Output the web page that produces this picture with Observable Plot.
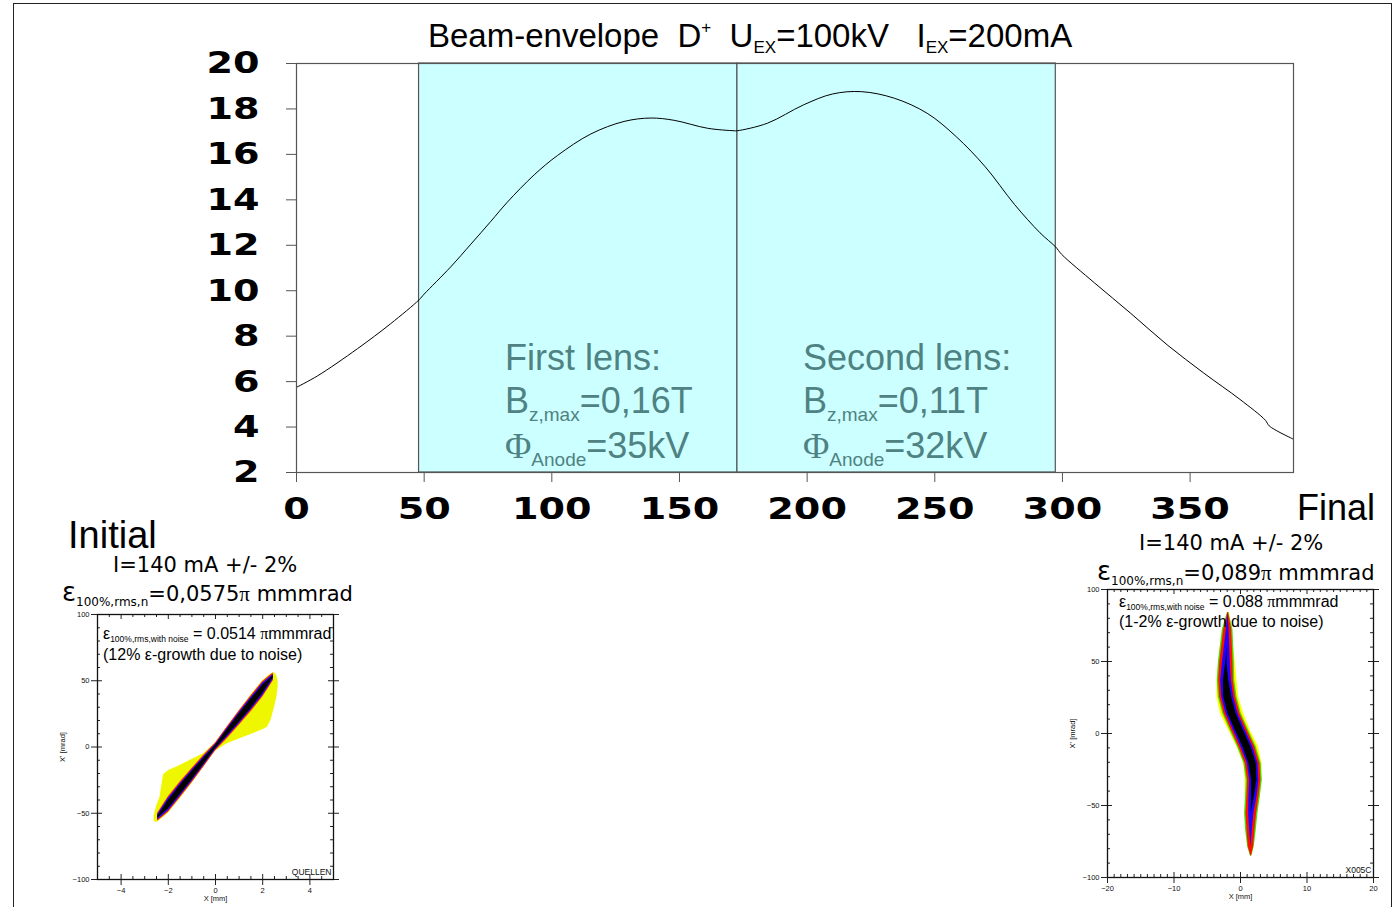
<!DOCTYPE html>
<html>
<head>
<meta charset="utf-8">
<script src="https://cdn.jsdelivr.net/npm/d3@7"></script>
<script src="https://cdn.jsdelivr.net/npm/@observablehq/plot@0.6"></script>
<style>
  html, body { margin: 0; padding: 0; background: #fff; }
  #root { position: relative; width: 1398px; height: 907px; overflow: hidden; background: #fff; }
  .border { position: absolute; left: 13px; top: 3px; width: 1379px; height: 920px; border: 1.5px solid #222; box-sizing: border-box; }
  .t { position: absolute; white-space: nowrap; line-height: 1; font-family: "Liberation Sans", Arial, sans-serif; color: #000; }
  .dv { font-family: "DejaVu Sans", Verdana, sans-serif; }
  .serif { font-family: "Liberation Serif", "Times New Roman", serif; }
  .lens { color: #4f8282; font-size: 36px; }
  .lens .sb { font-size: 19px; position: relative; top: 8px; }
</style>
</head>
<body>
<div id="root">
  <div class="border"></div>
  <div id="main" style="position:absolute;left:0;top:0"></div>
  <div id="insetL" style="position:absolute;left:40px;top:600px"></div>
  <div id="insetR" style="position:absolute;left:1050px;top:580px"></div>

  <div class="t" style="left:428px;top:19px;font-size:33px">Beam-envelope&nbsp;&nbsp;D<span style="font-size:17px;position:relative;top:-14px">+</span>&nbsp;&nbsp;U<span style="font-size:17px;position:relative;top:6px">EX</span>=100kV&nbsp;&nbsp;&nbsp;I<span style="font-size:17px;position:relative;top:6px">EX</span>=200mA</div>

  <div class="t lens" style="left:505px;top:340px">First lens:</div>
  <div class="t lens" style="left:505px;top:383px">B<span class="sb">z,max</span>=0,16T</div>
  <div class="t lens" style="left:505px;top:428px"><span class="serif">Φ</span><span class="sb">Anode</span>=35kV</div>
  <div class="t lens" style="left:803px;top:340px">Second lens:</div>
  <div class="t lens" style="left:803px;top:383px">B<span class="sb">z,max</span>=0,11T</div>
  <div class="t lens" style="left:803px;top:428px"><span class="serif">Φ</span><span class="sb">Anode</span>=32kV</div>

  <div class="t" style="left:1297px;top:490px;font-size:36px">Final</div>
  <div class="t" style="left:68px;top:516px;font-size:38px">Initial</div>

  <div class="t dv" style="left:113px;top:555px;font-size:21px">I=140 mA +/- 2%</div>
  <div class="t dv" style="left:62px;top:579px;font-size:21px"><span style="font-size:26px">ε</span><span style="font-size:12px;position:relative;top:5px">100%,rms,n</span>=0,0575<span class="serif">π</span> mmmrad</div>
  <div class="t dv" style="left:1139px;top:533px;font-size:21px">I=140 mA +/- 2%</div>
  <div class="t dv" style="left:1097px;top:558px;font-size:21px"><span style="font-size:26px">ε</span><span style="font-size:12px;position:relative;top:5px">100%,rms,n</span>=0,089<span class="serif">π</span> mmmrad</div>

  <div class="t" style="left:103px;top:626px;font-size:16px">ε<span style="font-size:8.5px;position:relative;top:3px">100%,rms,with noise</span> = 0.0514 <span class="serif">π</span>mmmrad</div>
  <div class="t" style="left:103px;top:647px;font-size:16px">(12% ε-growth due to noise)</div>
  <div class="t" style="left:1119px;top:594px;font-size:16px">ε<span style="font-size:8.5px;position:relative;top:3px">100%,rms,with noise</span> = 0.088 <span class="serif">π</span>mmmrad</div>
  <div class="t" style="left:1119px;top:614px;font-size:16px">(1-2% ε-growth due to noise)</div>
</div>

<script>
// ---------- Main beam envelope ----------
const zPos = [0, 8.2, 23.9, 36.9, 48.0, 50, 60.4, 68.3, 76.1, 82.6, 93.1, 102.2, 115.3, 128.3, 138.8, 147.9, 161, 171.4,
  172.6, 184.4, 198.6, 210, 221.4, 234.2, 247, 258.4, 269.8, 281.2, 291.2, 297.3, 299.7, 312.5, 326.8, 341, 355.3, 369.5, 379.5, 381, 390.4];
const radius = [5.75, 6.25, 7.45, 8.55, 9.6, 9.85, 11.05, 12.05, 13.05, 13.9, 15.1, 15.95, 16.9, 17.45, 17.6, 17.5, 17.15, 17.04,
  17.04, 17.37, 18.18, 18.66, 18.76, 18.47, 17.81, 16.78, 15.45, 13.8, 12.55, 11.93, 11.6, 10.35, 9.0, 7.62, 6.38, 5.22, 4.3, 4.05, 3.47];
const lensNames = ["First lens", "Second lens"];
const lensStart = [48.0, 172.7];
const lensEnd = [172.7, 297.4];
const xDomainMain = [0, 390.5];
const yDomainMain = [2, 20];
const xTicksMain = [0, 50, 100, 150, 200, 250, 300, 350];
const yTicksMain = [2, 4, 6, 8, 10, 12, 14, 16, 18, 20];

const envelope = zPos.map((z, i) => ({z, r: radius[i]}));
const lenses = lensNames.map((n, i) => ({name: n, start: lensStart[i], end: lensEnd[i]}));

const mainPlot = Plot.plot({
  width: 1398, height: 540,
  marginLeft: 296, marginRight: 105, marginTop: 63, marginBottom: 68,
  x: {domain: xDomainMain},
  y: {domain: yDomainMain},
  style: {fontFamily: "DejaVu Sans, Verdana, sans-serif", fontWeight: "bold", color: "#000", background: "transparent", overflow: "visible"},
  marks: [
    Plot.rect(lenses, {x1: "start", x2: "end", y1: () => yDomainMain[0], y2: () => yDomainMain[1], fill: "#ccffff", stroke: "#555", strokeWidth: 1.2}),
    Plot.line(envelope, {x: "z", y: "r", stroke: "#000", strokeWidth: 1, curve: "catmull-rom"}),
    Plot.frame({stroke: "#555", strokeWidth: 1.2}),
    Plot.axisY(yTicksMain, {anchor: "left", tickSize: 10, tickPadding: 27, fontSize: 31, fontWeight: "bold", label: null, stroke: "#555"}),
    Plot.axisX(xTicksMain, {anchor: "bottom", tickSize: 10, tickPadding: 14, fontSize: 31, fontWeight: "bold", label: null, stroke: "#555"})
  ]
});
// widen the heavy tick-label digits horizontally (the original uses an extended bold face)
mainPlot.querySelectorAll('[aria-label="y-axis tick label"] text, [aria-label="x-axis tick label"] text').forEach(t => {
  const tr = t.getAttribute("transform");
  if (tr) {
    t.setAttribute("transform", tr + " scale(1.23,1)");
  } else {
    const anchor = t.closest("[text-anchor]")?.getAttribute("text-anchor") || t.getAttribute("text-anchor");
    t.style.transformBox = "fill-box";
    t.style.transformOrigin = anchor === "end" ? "right center" : "center center";
    t.style.transform = "scaleX(1.23)";
  }
});
document.getElementById("main").append(mainPlot);

// ---------- Initial phase space (left inset) ----------
const initX    = [-2.6, -2.5, -2.35, -2.2, -2.0, -1.5, -1.0, -0.5, 0, 0.5, 1.0, 1.5, 2.0, 2.2, 2.35, 2.5, 2.6, 2.65];
const initLow  = [-56, -57, -55, -53, -50, -39, -27.5, -15, -3, 2.5, 6, 9.5, 13, 15, 20, 30, 38, 45];
const initHigh = [-52, -45, -38, -21, -18, -14, -9.5, -5, 3, 15, 27, 39, 50, 53, 55, 56, 54, 50];
const initCoreX = [-2.45, -2.0, -1.5, -1.0, -0.5, 0, 0.5, 1.0, 1.5, 2.0, 2.45];
const initCoreY = [-53, -43.5, -32.5, -21.7, -10.8, 0, 10.8, 21.7, 32.5, 43.5, 53];
const initRedHalf   = [3, 6, 6, 5.5, 4.5, 3, 4.5, 5.5, 6, 6, 3];
const initBlueHalf  = [2, 4.8, 4.8, 4.3, 3.4, 2, 3.4, 4.3, 4.8, 4.8, 2];
const initBlackHalf = [0.8, 3.2, 3.6, 3.2, 2.4, 1.4, 2.4, 3.2, 3.6, 3.2, 0.8];

// ---------- Final phase space (right inset) ----------
const finY      = [84, 72, 60.5, 49, 37, 25.4, 13.9, 2.3, -9.3, -20.9, -32.4, -44, -55.5, -67, -78.6, -85];
const finLeft   = [-2.0, -2.68, -3.03, -3.28, -3.53, -3.53, -3.03, -1.78, -0.53, 0.47, 0.72, 0.72, 0.72, 0.97, 1.22, 1.55];
const finRight  = [-1.7, -1.28, -1.03, -0.78, -0.53, -0.28, 0.47, 1.47, 2.72, 3.22, 3.22, 2.97, 2.47, 2.22, 1.97, 1.65];
const finCenter = [-1.85, -1.93, -2.03, -2.13, -2.18, -1.93, -1.28, -0.18, 0.97, 1.82, 2.07, 1.87, 1.62, 1.57, 1.57, 1.6];
const finGreenHalf = [0.1, 0.8, 1.0, 1.2, 1.3, 1.4, 1.4, 1.4, 1.4, 1.3, 1.2, 1.1, 1.0, 0.8, 0.5, 0.1];
const finRedHalf   = [0.05, 0.6, 0.8, 1.0, 1.1, 1.2, 1.2, 1.2, 1.2, 1.1, 1.0, 0.9, 0.8, 0.6, 0.4, 0.05];
const finBlueHalf  = [0, 0.2, 0.4, 0.6, 0.8, 0.9, 0.9, 0.9, 0.9, 0.8, 0.7, 0.6, 0.4, 0.2, 0, 0];
const finBlackHalf = [0, 0, 0, 0.1, 0.4, 0.6, 0.6, 0.6, 0.6, 0.55, 0.4, 0.2, 0, 0, 0, 0];

const initCloud = initX.map((x, i) => ({x, low: initLow[i], high: initHigh[i]}));
const initCore = initCoreX.map((x, i) => ({x, c: initCoreY[i], red: initRedHalf[i], blue: initBlueHalf[i], black: initBlackHalf[i]}));
const finCloud = finY.map((y, i) => ({y, left: finLeft[i], right: finRight[i], c: finCenter[i],
  green: finGreenHalf[i], red: finRedHalf[i], blue: finBlueHalf[i], black: finBlackHalf[i]}));

function range(a, b, s, skip) {
  const out = [];
  for (let v = a; v <= b + 1e-9; v += s) { const r = Math.round(v * 100) / 100; if (!skip(r)) out.push(r); }
  return out;
}

function phasePlot({width, height, ml, mr, mt, mb, xDomain, xMajor, xMinor, yMajor, yMinor, cloudMarks, corner}) {
  const iw = width - ml - mr, ih = height - mt - mb;
  const tk = "#222";
  return Plot.plot({
    width, height, marginLeft: ml, marginRight: mr, marginTop: mt, marginBottom: mb,
    x: {domain: xDomain},
    y: {domain: [-100, 100]},
    style: {fontFamily: "Liberation Sans, Arial, sans-serif", fontSize: "8px", color: "#111", background: "transparent", overflow: "visible"},
    marks: [
      ...cloudMarks,
      Plot.ruleY(yMinor, {insetRight: iw - 3, stroke: tk}),
      Plot.ruleY(yMinor, {insetLeft: iw - 3, stroke: tk}),
      Plot.ruleX(xMinor, {insetTop: ih - 3, stroke: tk}),
      Plot.ruleX(xMinor, {insetBottom: ih - 3, stroke: tk}),
      Plot.ruleY(yMajor, {insetRight: iw - 5, stroke: tk}),
      Plot.ruleY(yMajor, {insetLeft: iw - 5, stroke: tk}),
      Plot.ruleX(xMajor, {insetTop: ih - 5, stroke: tk}),
      Plot.ruleX(xMajor, {insetBottom: ih - 5, stroke: tk}),
      Plot.frame({stroke: "#111", strokeWidth: 1.3}),
      Plot.axisY(yMajor, {anchor: "left", tickSize: 6, tickPadding: 2, fontSize: 7.5, label: "X' [mrad]", labelAnchor: "center", labelOffset: 38, labelArrow: "none", stroke: tk}),
      Plot.axisY(yMajor, {anchor: "right", tickSize: 5, tickFormat: () => "", label: null, stroke: tk}),
      Plot.axisX(xMajor, {anchor: "bottom", tickSize: 6, tickPadding: 2, fontSize: 7.5, label: "X [mm]", labelAnchor: "center", labelOffset: 21, labelArrow: "none", stroke: tk}),
      Plot.text([corner], {frameAnchor: "bottom-right", dx: -2, dy: -5, fontSize: 8.5, fill: "#111"})
    ]
  });
}

const initXMajor = [-4, -2, 0, 2, 4];
const initXMinor = range(-4.5, 4.5, 0.5, v => Number.isInteger(v / 2));
const yMajorInset = [-100, -50, 0, 50, 100];
const yMinorInset = range(-90, 90, 10, v => v % 50 === 0);

const insetL = phasePlot({
  width: 310, height: 307, ml: 57, mr: 17, mt: 14, mb: 28,
  xDomain: [-5, 5], xMajor: initXMajor, xMinor: initXMinor, yMajor: yMajorInset, yMinor: yMinorInset,
  corner: "QUELLEN",
  cloudMarks: [
    Plot.areaY(initCloud, {x: "x", y1: "low", y2: "high", fill: "#ffff00", curve: "linear"}),
    Plot.areaY(initCloud, {x: "x", y1: "low", y2: "high", fill: "#c8e600", fillOpacity: 0.3, curve: "linear"}),
    Plot.areaY(initCore, {x: "x", y1: d => d.c - d.red, y2: d => d.c + d.red, fill: "#ff3000"}),
    Plot.areaY(initCore, {x: "x", y1: d => d.c - d.blue, y2: d => d.c + d.blue, fill: "#3000ff"}),
    Plot.areaY(initCore, {x: "x", y1: d => d.c - d.black, y2: d => d.c + d.black, fill: "#000"})
  ]
});
document.getElementById("insetL").append(insetL);

const finXMajor = [-20, -10, 0, 10, 20];
const finXMinor = range(-19, 19, 1, v => v % 10 === 0);

const insetR = phasePlot({
  width: 340, height: 327, ml: 57, mr: 17, mt: 9, mb: 30,
  xDomain: [-20, 20], xMajor: finXMajor, xMinor: finXMinor, yMajor: yMajorInset, yMinor: yMinorInset,
  corner: "X005C",
  cloudMarks: [
    Plot.areaX(finCloud, {y: "y", x1: "left", x2: "right", fill: "#ffff00"}),
    Plot.areaX(finCloud, {y: "y", x1: d => d.c - d.green, x2: d => d.c + d.green, fill: "#40e000"}),
    Plot.areaX(finCloud, {y: "y", x1: d => d.c - d.red, x2: d => d.c + d.red, fill: "#ff1000"}),
    Plot.areaX(finCloud, {y: "y", x1: d => d.c - d.blue, x2: d => d.c + d.blue, fill: "#2000ff"}),
    Plot.areaX(finCloud, {y: "y", x1: d => d.c - d.black, x2: d => d.c + d.black, fill: "#000"})
  ]
});
document.getElementById("insetR").append(insetR);
</script>
</body>
</html>
